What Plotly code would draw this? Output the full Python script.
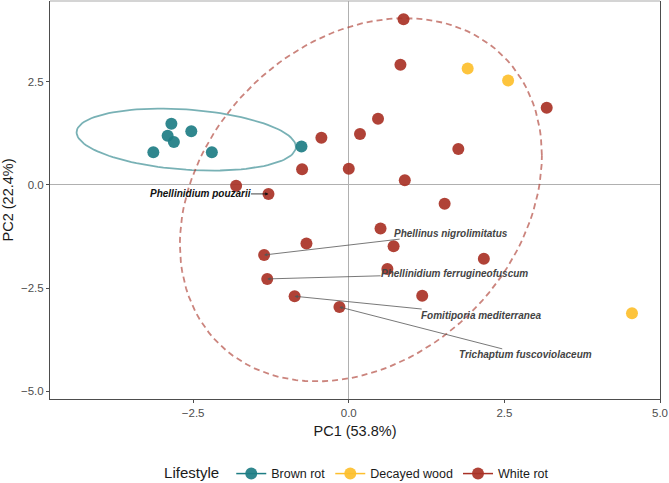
import numpy as np
import plotly.graph_objects as go

# ---------------- data ----------------
brown_x = [-2.85, -2.53, -2.91, -2.81, -3.14, -2.20, -0.76]
brown_y = [1.48, 1.30, 1.19, 1.04, 0.79, 0.79, 0.93]

decayed_x = [1.91, 2.56, 4.55]
decayed_y = [2.82, 2.53, -3.11]

white_x = [-0.44, 0.18, -0.75, 0.00, -1.81, -1.29, 0.88, 0.83, 3.18, 0.47, 1.76, 0.90,
           1.54, -0.68, -1.36, -1.31, -0.87, -0.15, 0.51, 0.72, 2.17, 0.62, 1.18]
white_y = [1.14, 1.23, 0.38, 0.39, -0.02, -0.22, 4.01, 2.91, 1.87, 1.60, 0.87, 0.11,
           -0.46, -1.42, -1.70, -2.28, -2.70, -2.96, -1.06, -1.49, -1.79, -2.04, -2.69]

# labelled species: index into white rot series
label_names = ["Phellinidium pouzarii", "Phellinus nigrolimitatus",
               "Phellinidium ferrugineofuscum", "Fomitiporia mediterranea",
               "Trichaptum fuscoviolaceum"]
label_idx = [5, 14, 15, 16, 17]
# label text centre positions (layout)
label_pos_x = [-2.39, 1.64, 1.70, 2.13, 2.84]
label_pos_y = [-0.22, -1.17, -2.155, -3.155, -4.12]

x_ticks = [-2.5, 0.0, 2.5, 5.0]
y_ticks = [-5.0, -2.5, 0.0, 2.5]

C_BROWN = "#1E7D84"
C_DECAY = "#FDBF2D"
C_WHITE = "#A93226"


# ------------- stat_ellipse (type = "t", level = 0.95) -------------
def cov_trob(x, nu=5, maxit=25, tol=0.01):
    x = np.asarray(x, float)
    n, p = x.shape
    wt = np.ones(n)
    loc = (wt[:, None] * x).sum(0) / wt.sum()
    w = np.sqrt(wt)
    X = x - loc
    for _ in range(maxit):
        w0 = w
        X = x - loc
        s = np.sqrt(w / w.sum())[:, None] * X
        _, d, vt = np.linalg.svd(s, full_matrices=False)
        wX = X @ vt.T @ np.diag(1.0 / d)
        Q = (wX ** 2).sum(1)
        w = wt * (nu + p) / (nu + Q)
        loc = (w[:, None] * x).sum(0) / w.sum()
        if np.all(np.abs(w - w0) < tol):
            break
    cov = (np.sqrt(w)[:, None] * X).T @ (np.sqrt(w)[:, None] * X) / wt.sum()
    return loc, cov


def ellipse(xs, ys, level=0.95, segments=120):
    pts = np.column_stack([xs, ys])
    center, shape = cov_trob(pts)
    dfn, dfd = 2, len(xs) - 1
    qf = (dfd / 2.0) * ((1 - level) ** (-2.0 / dfd) - 1)
    radius = np.sqrt(dfn * qf)
    R = np.linalg.cholesky(shape).T
    ang = np.arange(segments + 1) * 2 * np.pi / segments
    circ = np.column_stack([np.cos(ang), np.sin(ang)])
    e = center + radius * (circ @ R)
    return e[:, 0], e[:, 1]


ebx, eby = ellipse(brown_x, brown_y)
ewx, ewy = ellipse(white_x, white_y)

fig = go.Figure()

fig.add_trace(go.Scatter(x=ebx, y=eby, mode="lines", showlegend=False, hoverinfo="skip",
                         line=dict(color="rgba(30,125,132,0.6)", width=1.8)))
fig.add_trace(go.Scatter(x=ewx, y=ewy, mode="lines", showlegend=False, hoverinfo="skip",
                         line=dict(color="rgba(169,50,38,0.6)", width=1.8, dash="6px,4px")))

for name, xs, ys, col in [("Brown rot", brown_x, brown_y, C_BROWN),
                          ("Decayed wood", decayed_x, decayed_y, C_DECAY),
                          ("White rot", white_x, white_y, C_WHITE)]:
    fig.add_trace(go.Scatter(x=xs, y=ys, mode="markers", name=name, showlegend=False,
                             marker=dict(color=col, size=12, opacity=0.92,
                                         line=dict(width=0))))
    fig.add_trace(go.Scatter(x=[None], y=[None], mode="lines+markers", name=name,
                             marker=dict(color=col, size=12, opacity=0.92),
                             line=dict(color=col, width=1.5)))

for i, (nm, idx, lx, ly) in enumerate(zip(label_names, label_idx, label_pos_x, label_pos_y)):
    fig.add_annotation(x=white_x[idx], y=white_y[idx], ax=lx, ay=ly,
                       axref="x", ayref="y", xref="x", yref="y",
                       text=f"<b><i>{nm}</i></b>", showarrow=True,
                       arrowhead=2, arrowsize=0.8, arrowwidth=0.8,
                       arrowcolor="#111111" if i == 0 else "#555555",
                       font=dict(family="Liberation Sans, Arial", size=10,
                                 color="#111111" if i == 0 else "#444444"),
                       standoff=0, startstandoff=0, borderpad=0)

# top border (light)
fig.add_shape(type="line", xref="paper", yref="paper", x0=0, x1=1, y0=1, y1=1,
              line=dict(color="#AAAAAA", width=1.2))

axis_common = dict(showgrid=False, zeroline=True, zerolinecolor="#B0B0B0", zerolinewidth=1,
                   showline=True, linecolor="#4D4D4D", linewidth=1.1,
                   ticks="outside", ticklen=3, tickcolor="#4D4D4D", tickwidth=1,
                   tickfont=dict(family="Liberation Sans, Arial", size=11.5, color="#4D4D4D"),
                   tickformat=".1f")

fig.update_xaxes(range=[-4.80, 5.0], tickvals=x_ticks, mirror=False,
                 title=dict(text="PC1 (53.8%)", standoff=8,
                            font=dict(family="Liberation Sans, Arial", size=14.5, color="#1A1A1A")),
                 **axis_common)
fig.update_yaxes(range=[-5.19, 4.455], tickvals=y_ticks, mirror=True,
                 title=dict(text="PC2 (22.4%)", standoff=3,
                            font=dict(family="Liberation Sans, Arial", size=14.5, color="#1A1A1A")),
                 **axis_common)

fig.update_layout(
    width=669, height=483,
    margin=dict(l=50, r=9, t=1, b=84, autoexpand=False),
    plot_bgcolor="white", paper_bgcolor="white",
    font=dict(family="Liberation Sans, Arial"),
    legend=dict(orientation="h", x=0.505, xanchor="center", y=-0.226, yanchor="bottom",
                title=dict(text="Lifestyle ", font=dict(size=15, color="#1A1A1A")),
                font=dict(size=12.5, color="#1A1A1A"), itemwidth=30),
)

fig.write_html("out.html")
